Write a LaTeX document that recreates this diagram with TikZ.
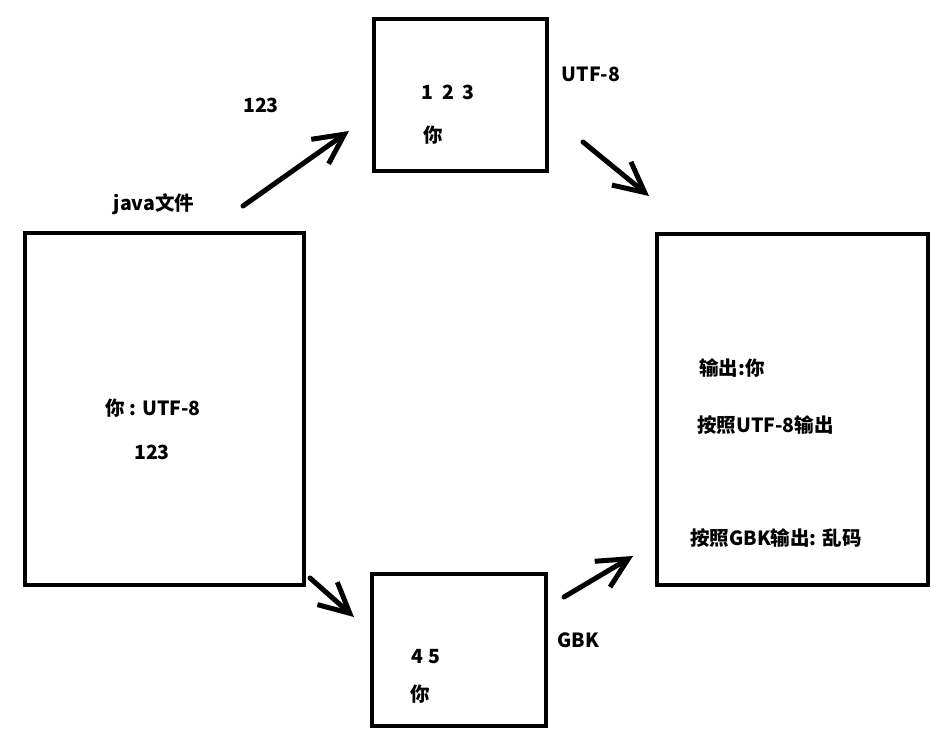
\documentclass[tikz,border=0pt]{standalone}
\usepackage{fontspec}
\setmainfont{Noto Sans CJK SC}
\usetikzlibrary{arrows.meta}

\begin{document}
\begin{tikzpicture}[x=1pt,y=-1pt,line width=4.5pt,
    box/.style={rectangle,draw,inner sep=0pt},
    txt/.style={font=\bfseries\fontsize{19.5}{22}\selectfont,inner sep=0pt},
    arr/.style={-{Straight Barb[length=30pt,width=30pt]},line width=5pt,line cap=round}]
  \useasboundingbox (0,0) rectangle (938,741);

  \node[box,minimum width=279pt,minimum height=352pt] (src) at (164.5,409) {};
  \node[box,minimum width=173pt,minimum height=152pt] (utf) at (460.5,95) {};
  \node[box,minimum width=174pt,minimum height=152pt] (gbk) at (459,650) {};
  \node[box,minimum width=271pt,minimum height=351pt] (out) at (792.5,409.5) {};

  \node[txt] (t1)  at (153,408) {你 : UTF-8};
  \node[txt] (t2)  at (152,452) {123};
  \node[txt] (t3)  at (154,204) {java文件};
  \node[txt] (t4)  at (261,105) {123};
  \node[txt] (t5)  at (448,92)  {1\hspace{9pt}2\hspace{9pt}3};
  \node[txt] (t6)  at (433,135) {你};
  \node[txt] (t7)  at (591,74)  {UTF-8};
  \node[txt] (t8)  at (426,657) {4 5};
  \node[txt] (t9)  at (420,694) {你};
  \node[txt] (t10) at (578,640) {GBK};
  \node[txt,anchor=west] (t11) at (697,368) {输出:你};
  \node[txt,anchor=west] (t12) at (695,425) {按照UTF-8输出};
  \node[txt,anchor=west] (t13) at (688,538) {按照GBK输出: 乱码};

  \coordinate (a1) at (243,206);
  \coordinate (b1) at (349,131);
  \coordinate (a2) at (583,142);
  \coordinate (b2) at (649,196);
  \coordinate (a3) at (310,578);
  \coordinate (b3) at (354,617);
  \coordinate (a4) at (564,597);
  \coordinate (b4) at (633,556);

  \draw[arr] (a1) -- (b1);
  \draw[arr] (a2) -- (b2);
  \draw[arr] (a3) -- (b3);
  \draw[arr] (a4) -- (b4);
\end{tikzpicture}
\end{document}
